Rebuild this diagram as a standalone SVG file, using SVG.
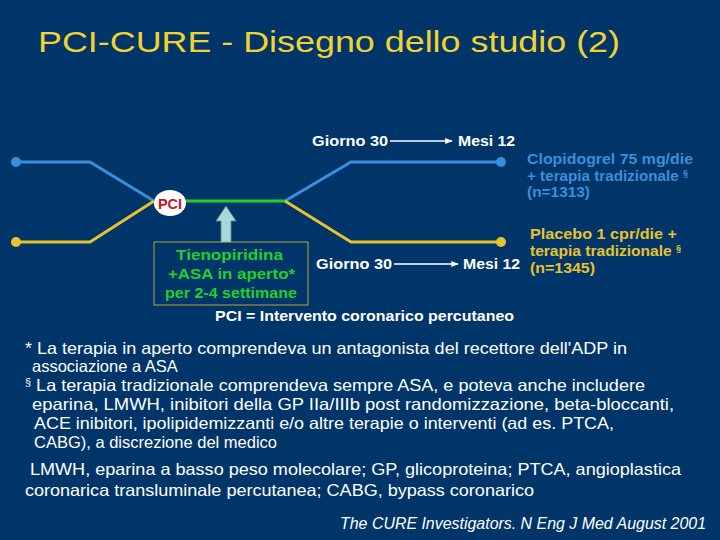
<svg xmlns="http://www.w3.org/2000/svg" width="720" height="540" viewBox="0 0 720 540">
<defs>
<marker id="ah" viewBox="0 0 10 10" refX="9" refY="5" markerWidth="5" markerHeight="5" orient="auto"><path d="M0,1 L10,5 L0,9 z" fill="#fff"/></marker>
<style>
text{font-family:"Liberation Sans",Arial,sans-serif}
.b{font-weight:bold;font-size:14.5px}
.w{fill:#fff}
.n{fill:#fff;font-size:16.5px}
</style>
</defs>
<rect width="720" height="540" fill="#00356A"/>
<text x="38" y="52" font-size="30" fill="#F2D22E" textLength="582" lengthAdjust="spacingAndGlyphs">PCI-CURE - Disegno dello studio (2)</text>
<g id="connectors" fill="none" stroke-width="3">
<polyline points="16,162 90,162 154,201" stroke="#3B8EDB"/>
<polyline points="285,201 351,162 501,162" stroke="#3B8EDB"/>
<polyline points="16,242 90,242 154,201" stroke="#E8C22C"/>
<polyline points="285,201 351,242 501,242" stroke="#E8C22C"/>
<line x1="180" y1="201" x2="285" y2="201" stroke="#22D02A"/>
<line x1="390" y1="141" x2="452" y2="141" stroke="#fff" stroke-width="1.5" marker-end="url(#ah)"/>
<line x1="394" y1="264" x2="458" y2="264" stroke="#fff" stroke-width="1.5" marker-end="url(#ah)"/>
</g>
<g id="dots">
<circle cx="16" cy="162" r="5" fill="#3B8EDB"/><circle cx="501" cy="162" r="5" fill="#3B8EDB"/>
<circle cx="16" cy="242" r="5" fill="#E8C22C"/><circle cx="501" cy="242" r="5" fill="#E8C22C"/>
</g>
<g id="pci"><ellipse cx="170" cy="203" rx="16" ry="13" fill="#fff"/><text x="170" y="208.5" class="b" text-anchor="middle" fill="#C8141E">PCI</text></g>
<g id="arrow"><path d="M221,242 V221 H216 L226,206 L236,221 H231 V242 z" fill="#A8D8D8" stroke="#5A8A8A" stroke-width="0.8"/></g>
<g id="box"><rect x="154" y="242" width="154" height="63" fill="none" stroke="#E8C22C" stroke-width="0.8"/>
<text class="b" fill="#22D02A"><tspan x="176" y="260" textLength="107" lengthAdjust="spacingAndGlyphs">Tienopiridina</tspan></text>
<text class="b" fill="#22D02A" x="168" y="279" textLength="127" lengthAdjust="spacingAndGlyphs">+ASA in aperto*</text>
<text class="b" fill="#22D02A" x="165" y="298" textLength="132" lengthAdjust="spacingAndGlyphs">per 2-4 settimane</text></g>
<g id="labels">
<text x="312" y="146" class="b w" textLength="76" lengthAdjust="spacingAndGlyphs">Giorno 30</text><text x="458" y="146" class="b w" textLength="57" lengthAdjust="spacingAndGlyphs">Mesi 12</text>
<text x="316" y="269" class="b w" textLength="76" lengthAdjust="spacingAndGlyphs">Giorno 30</text><text x="463" y="269" class="b w" textLength="57" lengthAdjust="spacingAndGlyphs">Mesi 12</text>
<text class="b" fill="#3B8EDB" x="527" y="164" textLength="166" lengthAdjust="spacingAndGlyphs">Clopidogrel 75 mg/die</text>
<text class="b" fill="#3B8EDB" x="527" y="181"><tspan textLength="156" lengthAdjust="spacingAndGlyphs">+ terapia tradizionale </tspan><tspan font-size="9" dy="-5">§</tspan></text>
<text class="b" fill="#3B8EDB" x="527" y="197" textLength="63" lengthAdjust="spacingAndGlyphs">(n=1313)</text>
<text class="b" fill="#E8C22C" x="530" y="239" textLength="147" lengthAdjust="spacingAndGlyphs">Placebo 1 cpr/die +</text>
<text class="b" fill="#E8C22C" x="530" y="256"><tspan textLength="146" lengthAdjust="spacingAndGlyphs">terapia tradizionale </tspan><tspan font-size="9" dy="-5">§</tspan></text>
<text class="b" fill="#E8C22C" x="530" y="273" textLength="65" lengthAdjust="spacingAndGlyphs">(n=1345)</text>
<text x="215" y="321" class="b w" textLength="299" lengthAdjust="spacingAndGlyphs">PCI = Intervento coronarico percutaneo</text>
</g>
<g id="notes">
<text x="25" y="354" class="n" textLength="602" lengthAdjust="spacingAndGlyphs">* La terapia in aperto comprendeva un antagonista del recettore dell'ADP in</text>
<text x="32" y="372" class="n">associazione a ASA</text>
<text x="25" y="391" class="n" textLength="620" lengthAdjust="spacingAndGlyphs"><tspan font-size="10" dy="-5">§</tspan><tspan dy="5"> La terapia tradizionale comprendeva sempre ASA, e poteva anche includere</tspan></text>
<text x="32" y="410" class="n" textLength="642" lengthAdjust="spacingAndGlyphs">eparina, LMWH, inibitori della GP IIa/IIIb post randomizzazione, beta-bloccanti,</text>
<text x="34" y="429" class="n" textLength="580" lengthAdjust="spacingAndGlyphs">ACE inibitori, ipolipidemizzanti e/o altre terapie o interventi (ad es. PTCA,</text>
<text x="34" y="448" class="n">CABG), a discrezione del medico</text>
<text x="30" y="475" class="n" textLength="651" lengthAdjust="spacingAndGlyphs">LMWH, eparina a basso peso molecolare; GP, glicoproteina; PTCA, angioplastica</text>
<text x="25" y="496" class="n" textLength="509" lengthAdjust="spacingAndGlyphs">coronarica transluminale percutanea; CABG, bypass coronarico</text>
<text x="340" y="529" class="n" font-size="15" font-style="italic" textLength="366" lengthAdjust="spacingAndGlyphs">The CURE Investigators. N Eng J Med August 2001</text>
</g>
</svg>
